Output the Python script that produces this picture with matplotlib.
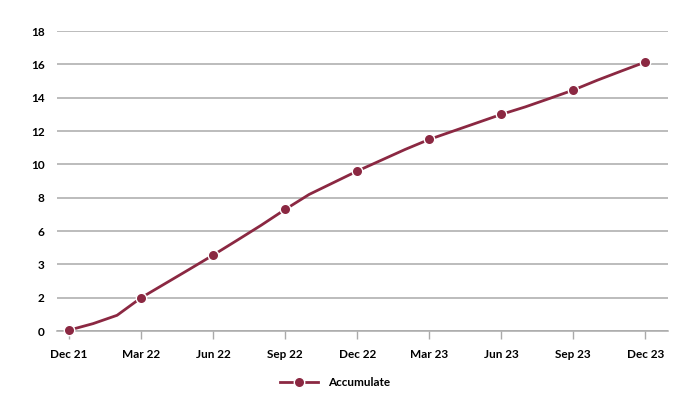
import matplotlib
matplotlib.use("Agg")
import matplotlib.pyplot as plt

months = list(range(25))
values = [0.06, 0.45, 0.95, 2.0, 2.85, 3.7, 4.56, 5.45, 6.35, 7.3, 8.2, 8.9,
          9.6, 10.25, 10.9, 11.5, 12.0, 12.5, 13.0, 13.45, 13.95, 14.46,
          15.05, 15.6, 16.14]
tick_months = [0, 3, 6, 9, 12, 15, 18, 21, 24]
tick_labels = ["Dec 21", "Mar 22", "Jun 22", "Sep 22", "Dec 22",
               "Mar 23", "Jun 23", "Sep 23", "Dec 23"]
y_ticks = [0, 2, 4, 6, 8, 10, 12, 14, 16, 18]
y_labels = ["0", "2", "3", "6", "8", "10", "12", "14", "16", "18"]
series_name = "Accumulate"

plt.rcParams['font.family'] = ['Lato', 'DejaVu Sans']
color = '#8B2842'

fig = plt.figure(figsize=(6.79, 3.98), dpi=100)
ax = fig.add_axes([0.084, 0.168, 0.9, 0.754])

ax.plot(months, values, color=color, lw=2.0, marker='o', markevery=tick_months,
        markersize=7.5, markerfacecolor=color, markeredgecolor='white',
        markeredgewidth=1.0, label=series_name, clip_on=False, zorder=3)

ax.set_xlim(-0.5, 24.95)
ax.set_ylim(0, 18)
ax.set_yticks(y_ticks)
ax.set_yticklabels(y_labels, fontsize=8.5, fontweight='bold')
ax.set_xticks(tick_months)
ax.set_xticklabels(tick_labels, fontsize=8.5, fontweight='bold')
ax.yaxis.grid(True, color='#aaaaaa', lw=1.1)
ax.set_axisbelow(True)
for s in ['top', 'right', 'left']:
    ax.spines[s].set_visible(False)
ax.spines['bottom'].set_color('#aaaaaa')
ax.spines['bottom'].set_linewidth(1.1)
ax.tick_params(axis='y', length=0, pad=9)
ax.tick_params(axis='x', length=6, color='#aaaaaa', width=1, pad=7)

leg = ax.legend(loc='upper center', bbox_to_anchor=(0.455, -0.118), frameon=False,
                prop={'family': 'Lato', 'weight': 'bold', 'size': 8.5},
                handlelength=3.2)

fig.savefig("out.png", dpi=100)
